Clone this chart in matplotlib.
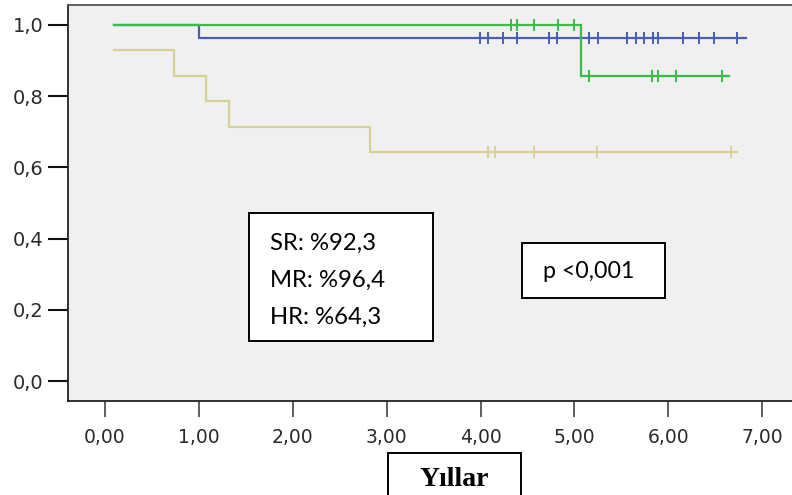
import matplotlib
matplotlib.use("Agg")
import matplotlib.pyplot as plt
from matplotlib.patches import Rectangle
import numpy as np

# Kaplan-Meier steps (time in years, survival) per group
sr_times = [0.10, 5.07, 6.64]
sr_surv = [1.0, 0.857, 0.857]
sr_censor = [4.32, 4.39, 4.57, 4.82, 5.00, 5.15, 5.82, 5.89, 6.08, 6.57]

mr_times = [0.10, 1.01, 6.82]
mr_surv = [1.0, 0.964, 0.964]
mr_censor = [3.99, 4.08, 4.24, 4.39, 4.73, 4.81, 5.07, 5.15, 5.25,
             5.56, 5.65, 5.74, 5.83, 5.89, 6.15, 6.32, 6.48, 6.73]

hr_times = [0.10, 0.74, 1.08, 1.32, 2.82, 6.73]
hr_surv = [0.929, 0.857, 0.786, 0.714, 0.643, 0.643]
hr_censor = [4.08, 4.15, 4.57, 5.24, 6.66]

x_ticks = [0, 1, 2, 3, 4, 5, 6, 7]
x_labels = ["0,00", "1,00", "2,00", "3,00", "4,00", "5,00", "6,00", "7,00"]
y_ticks = [0.0, 0.2, 0.4, 0.6, 0.8, 1.0]
y_labels = ["0,0", "0,2", "0,4", "0,6", "0,8", "1,0"]

summary_lines = ["SR: %92,3", "MR: %96,4", "HR: %64,3"]
p_text = "p <0,001"
x_title = "Yıllar"

GREEN = "#3cba4b"
BLUE = "#4a5fb2"
TAN = "#d7d197"


def surv_at(times, surv, t):
    idx = np.searchsorted(times, t, side="right") - 1
    return np.array(surv)[idx]


def draw_km(ax, times, surv, censor, color, z):
    ax.step(times, surv, where="post", color=color, lw=1.6, zorder=z,
            solid_joinstyle="miter")
    cy = surv_at(times, surv, censor)
    ax.plot(censor, cy, ls="none", marker="|", ms=8.5, mew=1.4,
            color=color, zorder=z)


fig = plt.figure(figsize=(7.92, 4.95), dpi=100)
ax = fig.add_axes([67.5 / 792, 94 / 495, 1 - 67.5 / 792, 396 / 495])
ax.set_facecolor("#f0f0f0")

draw_km(ax, hr_times, hr_surv, hr_censor, TAN, 2)
draw_km(ax, mr_times, mr_surv, mr_censor, BLUE, 3)
draw_km(ax, sr_times, sr_surv, sr_censor, GREEN, 4)

ax.set_xlim(-0.394, 7.314)
ax.set_ylim(-0.056, 1.056)

ax.set_xticks(x_ticks)
ax.set_xticklabels(x_labels, fontsize=13.5, color="#2a2a2a",
                   family="DejaVu Sans")
ax.set_yticks(y_ticks)
ax.set_yticklabels(y_labels, fontsize=14, color="#2a2a2a",
                   family="DejaVu Sans")
ax.tick_params(axis="y", direction="out", length=14.5, width=1.5, pad=3,
               color="#111111")
ax.tick_params(axis="x", direction="out", length=11.5, width=1.1, pad=8,
               color="#333333")

for side in ["left", "bottom", "top"]:
    ax.spines[side].set_linewidth(1.3)
    ax.spines[side].set_color("#222222")
ax.spines["top"].set_color("#555555")
ax.spines["right"].set_visible(False)

# annotation boxes, placed in pixel space of the figure
def fig_box(x0, y0, x1, y1):
    return Rectangle((x0 / 792, 1 - y1 / 495), (x1 - x0) / 792, (y1 - y0) / 495,
                     transform=fig.transFigure, facecolor="white",
                     edgecolor="black", lw=1.4, zorder=5)


fig.patches.append(fig_box(249.3, 212.7, 433.3, 340.7))
for i, line in enumerate(summary_lines):
    fig.text(270 / 792, 1 - (243.5 + i * 37) / 495, line, fontsize=17.2,
             family="Lato", va="center", ha="left", zorder=6)

fig.patches.append(fig_box(521.7, 243.3, 665, 298.3))
fig.text(589 / 792, 1 - 272 / 495, p_text, fontsize=16.7, family="Lato",
         va="center", ha="center", zorder=6)

fig.patches.append(fig_box(388, 453, 521, 505))
fig.text(454 / 792, 1 - 480 / 495, x_title, fontsize=20,
         family="Liberation Serif", weight="bold", va="center", ha="center",
         zorder=6)

fig.savefig("out.png", dpi=100, facecolor="white")
